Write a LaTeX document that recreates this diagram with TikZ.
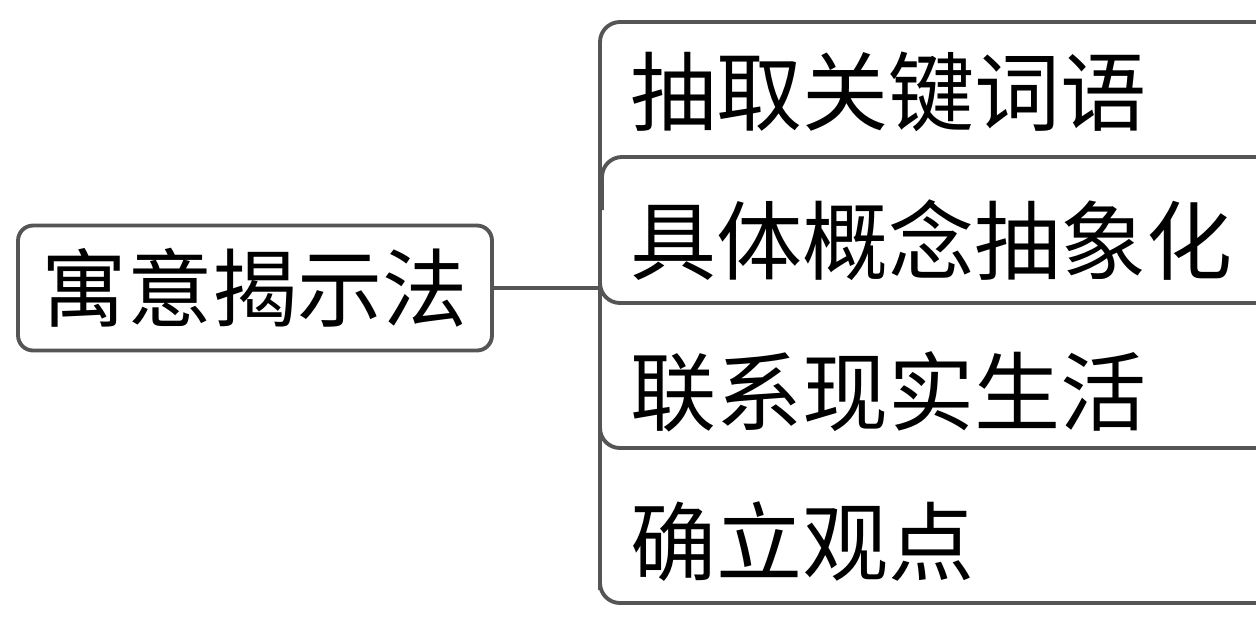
\documentclass[tikz,border=0pt]{standalone}
\usepackage{fontspec}
\newfontfamily\cjk{Noto Sans CJK SC}
\definecolor{linegray}{HTML}{555555}
\tikzset{
  edge/.style={draw=linegray, line width=2.2pt},
  rootbox/.style={edge, rounded corners=0.3cm, minimum width=9.48cm, minimum height=2.5cm, inner sep=0pt, font=\cjk\fontsize{48.5}{56}\selectfont},
  leaf/.style={anchor=west, inner sep=0pt, font=\cjk\fontsize{49}{58}\selectfont}
}

\begin{document}
\begin{tikzpicture}[x=0.02cm,y=-0.02cm]
  \useasboundingbox (0,0) rectangle (1256,616);
  \clip (0,0) rectangle (1256,616);
  % root
  \node[rootbox] (root) at (255,288) {寓意揭示法};
  % leaves
  \node[leaf] (k1) at (630,92) {抽取关键词语};
  \node[leaf] (k2) at (630,240) {具体概念抽象化};
  \node[leaf] (k3) at (630,392) {联系现实生活};
  \node[leaf] (k4) at (630,542) {确立观点};
  % box outlines
  \draw[edge,rounded corners=0.4cm] (1300,22) -- (600,22) -- (600,157);
  \draw[edge] (600,150) -- (600,590);
  \draw[edge,rounded corners=0.4cm] (1300,157) -- (602,157) -- (602,210);
  \draw[edge,rounded corners=0.4cm] (600,250) -- (600,303) -- (1300,303);
  \draw[edge,rounded corners=0.4cm] (600,400) -- (600,448) -- (1300,448);
  \draw[edge,rounded corners=0.4cm] (600,550) -- (600,603) -- (1300,603);
  % connector
  \coordinate (spine) at (600,292);
  \draw[edge] (root.east) -- (spine |- root.east);
\end{tikzpicture}
\end{document}
